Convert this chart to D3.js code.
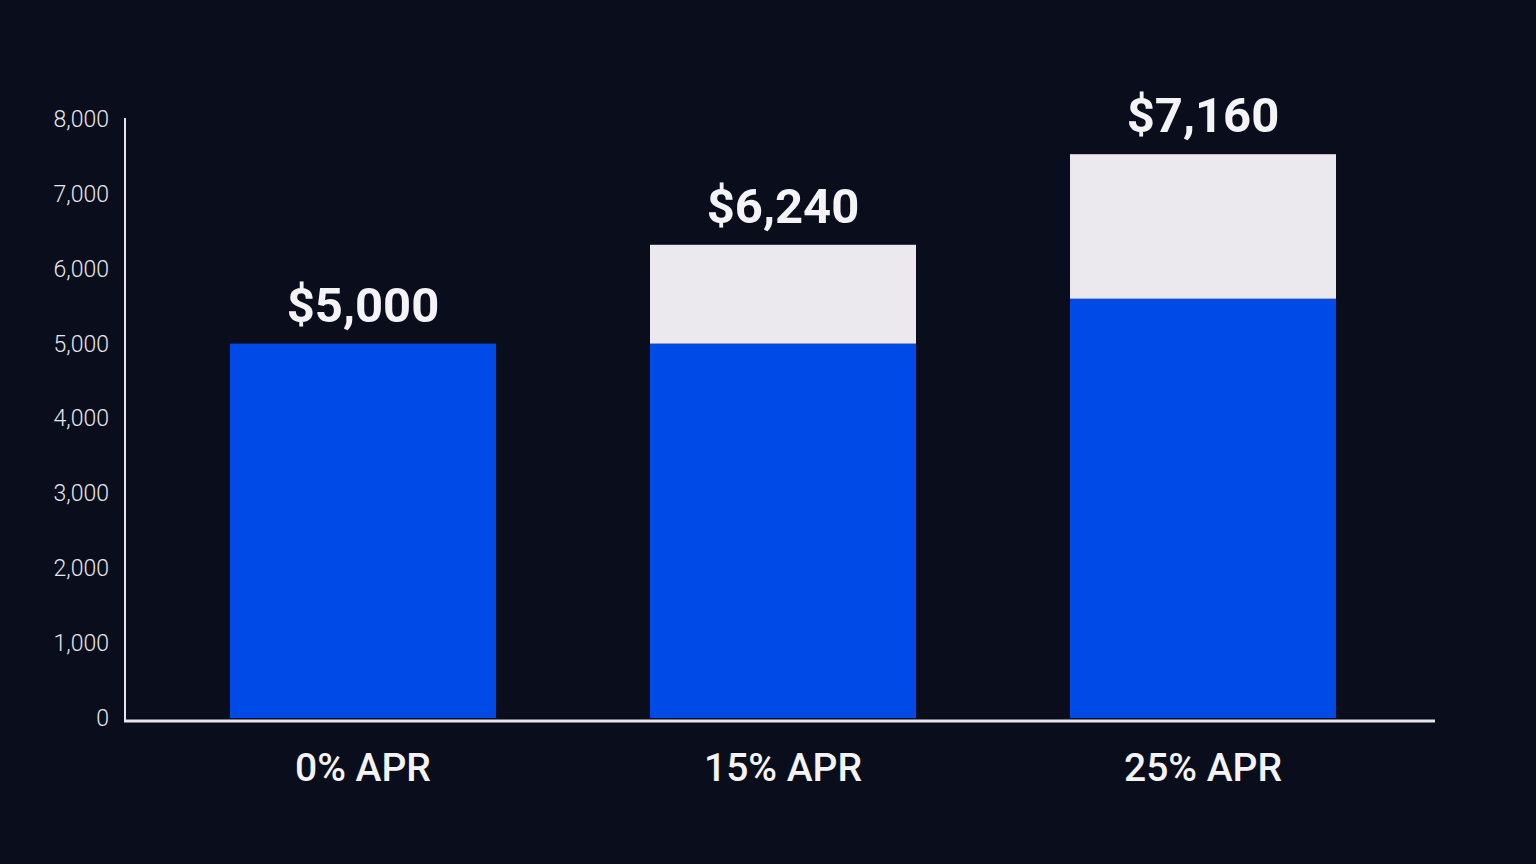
<!DOCTYPE html>
<html>
<head>
<meta charset="utf-8">
<script src="https://cdn.jsdelivr.net/npm/d3@7"></script>
<style>
  html, body { margin: 0; padding: 0; background: #0a0e1c; }
  svg { display: block; }
</style>
</head>
<body>
<svg id="chart"></svg>
<script>
// APR comparison: principal (blue) + interest (light) stacked bars

const categories = ["0% APR", "15% APR", "25% APR"];
const principal = [5000, 5000, 5600];
const interest = [0, 1320, 1930];
const totals = [5000, 6240, 7160];
const yTicks = [0, 1000, 2000, 3000, 4000, 5000, 6000, 7000, 8000];

const width = 1536;
const height = 864;

const svg = d3.select("#chart").attr("width", width).attr("height", height);

svg.append("rect")
  .attr("width", width)
  .attr("height", height)
  .attr("fill", "#0a0e1c");

const x = d3.scaleBand()
  .domain(categories)
  .range([153, 1413])
  .paddingInner(0.3667)
  .paddingOuter(0.1833);

const y = d3.scaleLinear().domain([0, 8000]).range([718, 119]);

const rows = categories.map((c, i) => ({
  cat: c,
  principal: principal[i],
  interest: interest[i],
  total: totals[i],
}));

// bars - principal part
svg.append("g")
  .selectAll("rect")
  .data(rows)
  .join("rect")
  .attr("x", (d) => x(d.cat))
  .attr("width", x.bandwidth())
  .attr("y", (d) => y(d.principal))
  .attr("height", (d) => y(0) - y(d.principal))
  .attr("fill", "#004be8");

// bars - interest part on top
svg.append("g")
  .selectAll("rect")
  .data(rows.filter((d) => d.interest > 0))
  .join("rect")
  .attr("x", (d) => x(d.cat))
  .attr("width", x.bandwidth())
  .attr("y", (d) => y(d.principal + d.interest))
  .attr("height", (d) => y(d.principal) - y(d.principal + d.interest))
  .attr("fill", "#ebe9ee");

// total labels above bars
const fmtTotal = d3.format("$,");
svg.append("g")
  .selectAll("text")
  .data(rows)
  .join("text")
  .attr("x", (d) => x(d.cat) + x.bandwidth() / 2)
  .attr("y", (d) => y(d.principal + d.interest) - 22)
  .attr("text-anchor", "middle")
  .attr("fill", "#f4f3f6")
  .style("font-family", "Roboto, sans-serif")
  .style("font-weight", 700)
  .style("font-size", "49px")
  .text((d) => fmtTotal(d.total));

// y axis
const yAxis = svg.append("g")
  .attr("transform", "translate(125,0)")
  .call(d3.axisLeft(y).tickValues(yTicks).tickSize(0).tickPadding(16).tickFormat(d3.format(",")));

yAxis.select(".domain")
  .attr("stroke", "#e6e6ea")
  .attr("stroke-width", 2)
  .attr("d", `M0,${y(8000) - 1}V${y(0) + 3}`);

yAxis.selectAll("text")
  .attr("fill", "#e6e6ea")
  .style("font-family", "Roboto, sans-serif")
  .style("font-weight", 300)
  .style("font-size", "23px");

// x axis
const xAxis = svg.append("g")
  .attr("transform", "translate(0,721)")
  .call(d3.axisBottom(x).tickSize(0).tickPadding(32));

xAxis.select(".domain")
  .attr("stroke", "#e6e6ea")
  .attr("stroke-width", 3)
  .attr("d", "M124,0H1435");

xAxis.selectAll("text")
  .attr("fill", "#f4f3f6")
  .style("font-family", "Roboto, sans-serif")
  .style("font-weight", 500)
  .style("font-size", "39px");
</script>
</body>
</html>
